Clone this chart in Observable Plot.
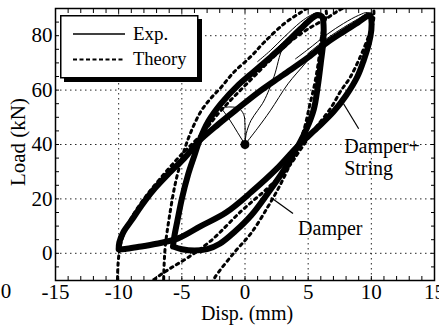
<!DOCTYPE html>
<html><head><meta charset="utf-8">
<script src="https://cdn.jsdelivr.net/npm/d3@7"></script>
<script src="https://cdn.jsdelivr.net/npm/@observablehq/plot@0.6"></script>
<style>
html,body{margin:0;padding:0;background:#fff;}
#wrap{position:relative;width:439px;height:325px;overflow:hidden;}
#legend{position:absolute;left:0;top:0;pointer-events:none;}
</style></head><body><div id="wrap"></div>
<script>
// ---- axis values ----
const xTickLabels = [-15, -10, -5, 0, 5, 10, 15];
const yTickLabels = [0, 20, 40, 60, 80];
const xGrid = [-10, -5, 0, 5, 10];
const yGrid = [0, 20, 40, 60, 80];
const xMinor = [-14,-13,-12,-11,-10,-9,-8,-7,-6,-5,-4,-3,-2,-1,0,1,2,3,4,5,6,7,8,9,10,11,12,13,14];
const yMinor = [-5,0,5,10,15,20,25,30,35,40,45,50,55,60,65,70,75,80,85];

// ---- experimental loops (disp mm, load kN) ----
const expA = [
  [-10.0,1.5],[-9.95,4],[-9.6,8],[-9.0,12],[-8.2,17.5],[-7.3,23],[-6.1,29],[-4.8,35],[-3.7,41],
  [-2.1,47.5],[-0.5,53.5],[1.0,59],[3.0,65.5],[5.0,72],[6.5,77.5],[7.8,81.5],[9.0,85],[9.6,87],[9.9,87.5],
  [10.0,86],[10.0,82],[9.8,77],[9.4,71],[8.9,65],[8.0,58],[7.0,52],[5.7,46],[4.2,39.5],[2.5,31],
  [0.5,22.5],[-1.5,15],[-3.5,10],[-5.3,5.5],[-7.0,3.5],[-8.5,2.3],[-9.5,1.6],[-10.0,1.5]
];
const expB = [
  [-5.7,2.5],[-5.6,6],[-5.35,12],[-5.0,20],[-4.5,29],[-4.0,36],[-3.6,41.5],[-2.9,48.5],[-1.9,55],
  [-0.5,62],[0.5,66],[2.0,72],[3.1,76.5],[4.4,82.5],[5.2,86],[5.7,87.5],[6.1,87],
  [6.2,85],[6.2,78],[6.0,70],[5.75,61],[5.45,53],[4.9,46],[4.2,39.5],[3.0,30],[1.8,22],[0.5,14],
  [-0.8,8],[-2.0,3.5],[-3.0,1.5],[-4.0,1],[-5.0,1.5],[-5.7,2.5]
];
// outer cycles fanning out near the peaks
const expAOuter = [[4.0,71.5],[5.0,75],[6.5,80.5],[7.8,84.5],[9.0,87.5],[9.7,88.5],[10.05,87],[10.1,84]];
const expBOuter = [[1.0,70.5],[2.0,74.5],[3.1,79.5],[4.4,85],[5.2,87.5],[5.8,88.5],[6.25,87],[6.3,84]];
const expAMid = [[5.0,73.5],[6.5,79],[7.8,83],[9.0,86.3],[9.7,88],[10.05,86.5]];
const expBMid = [[2.0,73.2],[3.1,78],[4.4,83.8],[5.2,86.8],[5.8,88],[6.2,86.5]];
// initial loading curves from the start point
const startPoint = [[0, 40]];
const init1 = [[0,40],[-0.6,44.5],[-1.2,49],[-1.9,53.5]];
const init2 = [[0,40],[0,47],[-0.1,51],[-0.5,53.3],[-1.2,53.8],[-1.9,53.5]];
const init3 = [[0,40],[0.1,44],[0.47,48.8],[1.0,52.5],[1.5,56],[2.3,65],[3.0,75.6],[3.8,80]];
const init4 = [[0,40],[1.0,46],[2.0,52.4],[3.4,62.3],[4.8,70],[6.0,77]];

// ---- theory loops ----
const thA = [
  [-10.1,-12],[-10.05,-4],[-9.9,2],[-9.6,7],[-9.0,13],[-8.0,20],[-6.8,27],[-5.2,35.5],[-3.4,44],
  [-1.9,52.5],[0.5,64],[2.0,71],[3.5,77.5],[5.0,82.5],[6.5,86.5],[7.5,89.5],[8.5,91.5],[9.5,92.5],
  [10.1,91],[10.2,87],[10.1,84],[9.8,80],[9.1,72],[8.3,64.5],[7.6,59.8],[6.8,53.5],[5.5,45.5],
  [4.3,37.5],[3.4,31.5],[1.8,24],[-0.3,15.5],[-2.7,4.6],[-4.5,-1.5],[-6.0,-5.8],[-7.2,-9.6],[-7.8,-12]
];
const thB = [
  [-6.45,-12],[-6.4,-4],[-6.3,3],[-6.0,13],[-5.5,26],[-4.8,38],[-4.2,45.5],[-3.46,52.4],[-2.7,57],
  [-1.9,61],[-0.9,66.5],[0.5,72.5],[1.5,77.5],[3.1,84.4],[4.4,88.5],[5.5,91.5],[6.2,91.5],[6.45,88],
  [6.3,85],[6.1,81],[5.8,70],[5.5,62],[5.1,54],[4.7,46],[4.2,39.5],[3.4,31],[2.6,23.5],[1.8,17],
  [0.5,7.5],[-0.9,0],[-2.4,-9],[-2.7,-12]
];

// ---- annotations ----
const notes = [
  {text: "Damper+\nString", x: 7.85, y: 35.5},
  {text: "Damper", x: 4.2, y: 9.4}
];
const leaders = [
  {x1: 7.8, y1: 55, x2: 9.0, y2: 45.8},
  {x1: 2.05, y1: 20.5, x2: 3.8, y2: 14.6}
];

const pts = a => a.map(([x, y]) => ({x, y}));
const serif = "'Liberation Serif','Times New Roman',Times,serif";
const gridStyle = {stroke: "#000", strokeWidth: 1, strokeDasharray: "1.5,3.5", strokeOpacity: 0.85};
const expStyle = {x: "x", y: "y", stroke: "#000", curve: "catmull-rom", clip: true};
const thStyle = {x: "x", y: "y", stroke: "#000", strokeWidth: 3, strokeDasharray: "2.6,4.2", curve: "catmull-rom", clip: true};

const chart = Plot.plot({
  width: 439, height: 325,
  marginLeft: 55, marginRight: 5, marginTop: 8, marginBottom: 45,
  x: {domain: [-15, 15]},
  y: {domain: [-10, 90]},
  style: {fontFamily: serif, fontSize: "21px", color: "#000", background: "#fff"},
  marks: [
    Plot.gridX(xGrid, gridStyle),
    Plot.gridY(yGrid, gridStyle),
    Plot.line(pts(thA), thStyle),
    Plot.line(pts(thB), thStyle),
    Plot.line(pts(expA), {...expStyle, strokeWidth: 6}),
    Plot.line(pts(expB), {...expStyle, strokeWidth: 6}),
    Plot.line(pts(expAOuter), {...expStyle, strokeWidth: 1}),
    Plot.line(pts(expBOuter), {...expStyle, strokeWidth: 1}),
    Plot.line(pts(expAMid), {...expStyle, strokeWidth: 1}),
    Plot.line(pts(expBMid), {...expStyle, strokeWidth: 1}),
    Plot.line(pts(init1), {...expStyle, strokeWidth: 1}),
    Plot.line(pts(init2), {...expStyle, strokeWidth: 1}),
    Plot.line(pts(init3), {...expStyle, strokeWidth: 1}),
    Plot.line(pts(init4), {...expStyle, strokeWidth: 1}),
    Plot.dot(pts(startPoint), {x: "x", y: "y", r: 4.5, fill: "#000"}),
    Plot.link(leaders, {x1: "x1", y1: "y1", x2: "x2", y2: "y2", stroke: "#000", strokeWidth: 1.2}),
    Plot.text(notes, {x: "x", y: "y", text: "text", textAnchor: "start", fontSize: 20, lineHeight: 1.1, fill: "#000"}),
    Plot.frame({stroke: "#000", strokeWidth: 1.5}),
    Plot.axisX(xTickLabels, {anchor: "bottom", tickSize: 0, tickPadding: 4, tickFormat: d => String(d), fontSize: 21, label: null}),
    Plot.axisY(yTickLabels, {anchor: "left", tickSize: 0, tickPadding: 3, tickFormat: d => String(d), fontSize: 21, label: null}),
    Plot.axisX(xMinor, {anchor: "bottom", tickSize: -4, tickFormat: () => "", label: null}),
    Plot.axisX(xMinor, {anchor: "top", tickSize: -4, tickFormat: () => "", label: null}),
    Plot.axisY(yMinor, {anchor: "left", tickSize: -4, tickFormat: () => "", label: null}),
    Plot.axisY(yMinor, {anchor: "right", tickSize: -4, tickFormat: () => "", label: null})
  ]
});
document.getElementById("wrap").appendChild(chart);

// axis titles and stray panel label
const svg = d3.select(chart);
svg.append("text").attr("x", 247).attr("y", 320).attr("text-anchor", "middle")
  .attr("font-family", serif).attr("font-size", 20).attr("fill", "#000").text("Disp. (mm)");
svg.append("text").attr("transform", "translate(25,142) rotate(-90)").attr("text-anchor", "middle")
  .attr("font-family", serif).attr("font-size", 21).attr("fill", "#000").text("Load (kN)");
svg.append("text").attr("x", 6).attr("y", 298).attr("text-anchor", "middle")
  .attr("font-family", serif).attr("font-size", 21).attr("fill", "#000").text("0");

// legend
const lg = d3.select("#wrap").append("svg").attr("id", "legend").attr("width", 439).attr("height", 325);
lg.append("rect").attr("x", 64).attr("y", 19).attr("width", 138).attr("height", 63).attr("fill", "#000");
lg.append("rect").attr("x", 60.75).attr("y", 15.75).attr("width", 137).attr("height", 62).attr("fill", "#fff").attr("stroke", "#000").attr("stroke-width", 1.5);
lg.append("line").attr("x1", 73).attr("x2", 125).attr("y1", 34).attr("y2", 34).attr("stroke", "#000").attr("stroke-width", 1.3);
lg.append("line").attr("x1", 73).attr("x2", 125).attr("y1", 59.5).attr("y2", 59.5).attr("stroke", "#000").attr("stroke-width", 2).attr("stroke-dasharray", "4,2.5");
lg.append("text").attr("x", 133).attr("y", 40).attr("font-family", serif).attr("font-size", 19).attr("fill", "#000").text("Exp.");
lg.append("text").attr("x", 133).attr("y", 65).attr("font-family", serif).attr("font-size", 18.5).attr("fill", "#000").text("Theory");
</script></body></html>
